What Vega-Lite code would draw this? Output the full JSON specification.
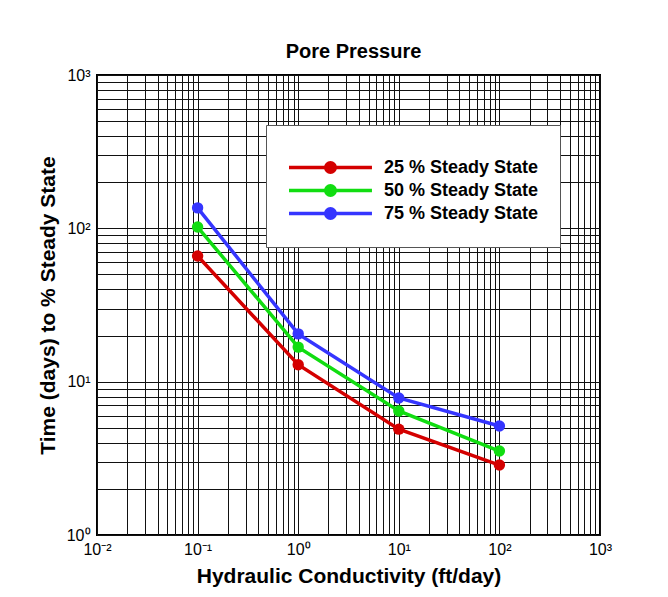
{
  "$schema": "https://vega.github.io/schema/vega-lite/v6.json",
  "autosize": "none",
  "width": 503,
  "height": 460,
  "padding": {"left": 97, "top": 75, "right": 68, "bottom": 62},
  "background": "white",
  "title": {"text": "Pore Pressure", "fontSize": 20, "font": "Liberation Sans", "fontWeight": "bold", "anchor": "middle", "offset": 5, "dx": 5, "color": "black"},
  "config": {
    "view": {"stroke": "black", "strokeWidth": 2},
    "font": "Liberation Sans"
  },
  "data": {"values": [
    {"series": "25 % Steady State", "k": 0.1, "time": 66},
    {"series": "25 % Steady State", "k": 1, "time": 12.9},
    {"series": "25 % Steady State", "k": 10, "time": 4.9},
    {"series": "25 % Steady State", "k": 100, "time": 2.86},
    {"series": "50 % Steady State", "k": 0.1, "time": 102},
    {"series": "50 % Steady State", "k": 1, "time": 16.8},
    {"series": "50 % Steady State", "k": 10, "time": 6.44},
    {"series": "50 % Steady State", "k": 100, "time": 3.53},
    {"series": "75 % Steady State", "k": 0.1, "time": 136},
    {"series": "75 % Steady State", "k": 1, "time": 20.5},
    {"series": "75 % Steady State", "k": 10, "time": 7.83},
    {"series": "75 % Steady State", "k": 100, "time": 5.14}
  ]},
  "encoding": {
    "x": {"field": "k", "type": "quantitative",
      "scale": {"type": "log", "domain": [0.01, 1000], "nice": false},
      "axis": {
        "title": "Hydraulic Conductivity (ft/day)",
        "titleFontSize": 21, "titleFontWeight": "bold", "titleColor": "black", "titlePadding": 8,
        "values": [0.01,0.02,0.03,0.04,0.05,0.06,0.07,0.08,0.09,0.1,0.2,0.3,0.4,0.5,0.6,0.7,0.8,0.9,1,2,3,4,5,6,7,8,9,10,20,30,40,50,60,70,80,90,100,200,300,400,500,600,700,800,900,1000],
        "labelExpr": "datum.value == 0.01 ? '10⁻²' : datum.value == 0.1 ? '10⁻¹' : datum.value == 1 ? '10⁰' : datum.value == 10 ? '10¹' : datum.value == 100 ? '10²' : datum.value == 1000 ? '10³' : ''",
        "labelFontSize": 16, "labelColor": "black", "labelOverlap": false, "labelBound": false, "labelFlush": false, "labelPadding": 6,
        "ticks": false, "domain": false,
        "grid": true, "gridColor": "#111", "gridWidth": 1, "gridOpacity": 1
      }
    },
    "y": {"field": "time", "type": "quantitative",
      "scale": {"type": "log", "domain": [1, 1000], "nice": false},
      "axis": {
        "title": "Time (days) to % Steady State",
        "titleFontSize": 21, "titleFontWeight": "bold", "titleColor": "black", "titlePadding": 8,
        "values": [1,2,3,4,5,6,7,8,9,10,20,30,40,50,60,70,80,90,100,200,300,400,500,600,700,800,900,1000],
        "labelExpr": "datum.value == 1 ? '10⁰' : datum.value == 10 ? '10¹' : datum.value == 100 ? '10²' : datum.value == 1000 ? '10³' : ''",
        "labelFontSize": 16, "labelColor": "black", "labelOverlap": false, "labelBound": false, "labelFlush": false, "labelPadding": 7,
        "ticks": false, "domain": false,
        "grid": true, "gridColor": "#111", "gridWidth": 1, "gridOpacity": 1
      }
    },
    "color": {"field": "series", "type": "nominal",
      "scale": {"domain": ["25 % Steady State", "50 % Steady State", "75 % Steady State"], "range": ["#d40000", "#11dd11", "#3535ff"]},
      "legend": {
        "title": " ", "titleFontSize": 11, "titlePadding": 0,
        "orient": "none", "legendX": 169, "legendY": 50,
        "labelFontSize": 18, "labelFontWeight": "bold", "labelColor": "black", "labelOffset": 76,
        "symbolType": "M-1,0H8.76M3.32,0A0.56,0.56,0,1,1,4.44,0A0.56,0.56,0,1,1,3.32,0",
        "symbolSize": 289, "symbolStrokeWidth": 3.5,
        "rowPadding": -5,
        "padding": 21,
        "fillColor": "white", "strokeColor": "#555",
        "encode": {"symbols": {"update": {"fill": {"scale": "color", "field": "value"}, "fillOpacity": {"value": 1}, "strokeWidth": {"value": 3.5}, "opacity": {"value": 1}}}}
      }
    }
  },
  "layer": [
    {"mark": {"type": "line", "strokeWidth": 3.5}},
    {"mark": {"type": "point", "filled": true, "size": 130, "opacity": 1}}
  ]
}
